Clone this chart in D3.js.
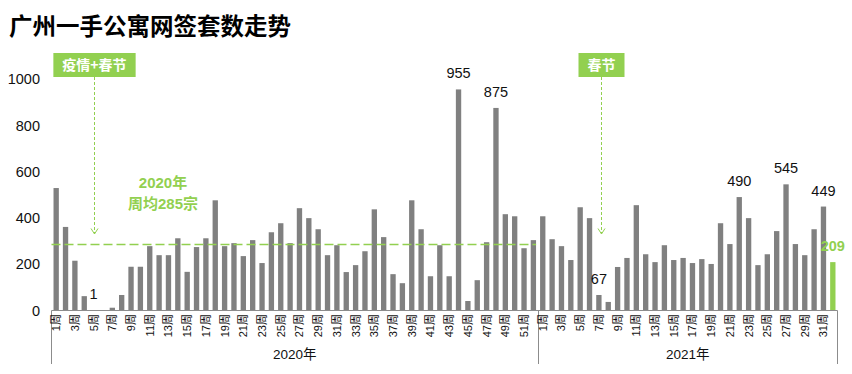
<!DOCTYPE html>
<html>
<head>
<meta charset="utf-8">
<script src="https://cdn.jsdelivr.net/npm/d3@7/dist/d3.min.js"></script>
<style>
  body { margin: 0; background: #fff; }
  text { font-family: "Liberation Sans", Arial, "Noto Sans CJK SC", sans-serif; }
</style>
</head>
<body>
<div id="plot"></div>
<script>
// weekly sales, 2020 (52 weeks) and 2021 (32 weeks)
var sales2020 = [529, 361, 215, 62, 1, 0, 12, 67, 189, 189, 278, 239, 239, 312, 167, 274, 312, 476, 278, 291,
                 235, 304, 205, 338, 377, 291, 442, 399, 351, 239, 282, 166, 196, 256, 437, 317, 157, 118, 476, 351,
                 148, 282, 148, 955, 41, 131, 295, 875, 416, 407, 269, 304];
var sales2021 = [407, 308, 278, 218, 446, 399, 67, 37, 188, 227, 455, 243, 209, 282, 218, 227, 205, 222, 201, 377,
                 287, 490, 399, 196, 243, 343, 545, 287, 239, 351, 449, 209];
var years = ["2020年", "2021年"];
var yTicks = [0, 200, 400, 600, 800, 1000];
// weeks that get a value label
var labelWeeks2020 = [5, 44, 48];
var labelWeeks2021 = [7, 22, 27, 31, 32];
var avg2020 = 285;
var avgText = ["2020年", "周均285宗"];
var notes = [
    {text: "疫情+春节", year: 0, week: 5},
    {text: "春节", year: 1, week: 7.25}
];

var green = "#92D050";
var W = 852, H = 374;
var plotLeft = 51.5, plotRight = 837.5, base = 310.5, plotTop = 79;

var svg = d3.select("#plot")
  .append("svg")
    .attr("width", W)
    .attr("height", H);

// build flat table of bars
var bars = [];
sales2020.forEach(function (v, i) { bars.push({year: 0, week: i + 1, value: v}); });
sales2021.forEach(function (v, i) { bars.push({year: 1, week: i + 1, value: v}); });
bars.forEach(function (d, i) { d.idx = i; });
var last = bars.length - 1;

var x = d3.scaleBand()
    .domain(d3.range(bars.length))
    .range([plotLeft, plotRight])
    .paddingInner(0.43)
    .paddingOuter(0.215);

var y = d3.scaleLinear()
    .domain([0, 1000])
    .range([base, plotTop]);

function cx(i) { return x(i) + x.bandwidth() / 2; }
function idxOf(year, week) { return year === 0 ? week - 1 : sales2020.length + week - 1; }

// Title
svg.append("text")
    .attr("x", 9)
    .attr("y", 35)
    .style("font-family", "'Noto Sans CJK SC', sans-serif")
    .style("font-size", "23.5px")
    .style("font-weight", "bold")
    .attr("fill", "#000")
    .text("广州一手公寓网签套数走势");

// Y axis labels (no line)
svg.append("g")
  .selectAll("text")
  .data(yTicks)
  .enter()
  .append("text")
    .attr("x", 40)
    .attr("y", function (d) { return y(d); })
    .attr("dy", "0.36em")
    .attr("text-anchor", "end")
    .style("font-size", "14.5px")
    .attr("fill", "#111")
    .text(function (d) { return d; });

// Bars
svg.append("g")
  .selectAll("rect")
  .data(bars)
  .enter()
  .append("rect")
    .attr("x", function (d) { return x(d.idx); })
    .attr("y", function (d) { return y(d.value); })
    .attr("width", x.bandwidth())
    .attr("height", function (d) { return base - y(d.value); })
    .attr("fill", function (d) { return d.idx === last ? green : "#808080"; });

// Value labels
var labelled = labelWeeks2020.map(function (w) { return bars[idxOf(0, w)]; })
    .concat(labelWeeks2021.map(function (w) { return bars[idxOf(1, w)]; }));
svg.append("g")
  .selectAll("text")
  .data(labelled)
  .enter()
  .append("text")
    .attr("x", function (d) { return cx(d.idx); })
    .attr("y", function (d) { return y(d.value) - 11; })
    .attr("text-anchor", "middle")
    .style("font-size", "14.5px")
    .attr("fill", function (d) { return d.idx === last ? green : "#111"; })
    .style("font-weight", function (d) { return d.idx === last ? "bold" : "normal"; })
    .text(function (d) { return d.value; });

// X axis line + year dividers
var split = (x(sales2020.length - 1) + x.bandwidth() + x(sales2020.length)) / 2;
var axis = svg.append("g").attr("stroke", "#8c8c8c").attr("stroke-width", 1);
axis.append("line")
    .attr("x1", plotLeft).attr("x2", plotRight)
    .attr("y1", base).attr("y2", base);
[plotLeft, Math.round(split) + 0.5, plotRight].forEach(function (px) {
    axis.append("line")
        .attr("x1", px).attr("x2", px)
        .attr("y1", base).attr("y2", 364);
});

// Week labels, odd weeks only, rotated
svg.append("g")
  .selectAll("text")
  .data(bars.filter(function (d) { return d.week % 2 === 1; }))
  .enter()
  .append("text")
    .attr("transform", function (d) { return "translate(" + cx(d.idx) + "," + (base + 3.5) + ") rotate(-90)"; })
    .attr("dy", "0.36em")
    .attr("text-anchor", "end")
    .style("font-size", "11px")
    .attr("fill", "#111")
    .text(function (d) { return d.week + "周"; });

// Year labels
var yearSpan = [[plotLeft, split], [split, plotRight]];
svg.append("g")
  .selectAll("text")
  .data(years)
  .enter()
  .append("text")
    .attr("x", function (d, i) { return (yearSpan[i][0] + yearSpan[i][1]) / 2; })
    .attr("y", 359)
    .attr("text-anchor", "middle")
    .style("font-size", "13.5px")
    .attr("fill", "#111")
    .text(function (d) { return d; });

// 2020 average dashed line
svg.append("line")
    .attr("x1", plotLeft)
    .attr("x2", split - 2)
    .attr("y1", y(avg2020))
    .attr("y2", y(avg2020))
    .attr("stroke", green)
    .attr("stroke-width", 1.5)
    .attr("stroke-dasharray", "9,4");

svg.append("g")
  .selectAll("text")
  .data(avgText)
  .enter()
  .append("text")
    .attr("x", 163)
    .attr("y", function (d, i) { return 188 + i * 21; })
    .attr("text-anchor", "middle")
    .style("font-size", "15px")
    .style("font-weight", "bold")
    .attr("fill", green)
    .text(function (d) { return d; });

// Note boxes with dashed arrows
notes.forEach(function (n) {
    var w = Math.floor(n.week);
    var px = cx(idxOf(n.year, w)) + (n.week - w) * x.step();
    px = Math.round(px) + 0.5;
    var g = svg.append("g");
    var t = g.append("text")
        .attr("x", px)
        .attr("y", 70)
        .attr("text-anchor", "middle")
        .style("font-family", "'Noto Sans CJK SC', sans-serif")
        .style("font-size", "14px")
        .style("font-weight", "bold")
        .attr("fill", "#fff")
        .text(n.text);
    var bw = t.node().getComputedTextLength() + 18;
    g.insert("rect", "text")
        .attr("x", px - bw / 2)
        .attr("y", 53)
        .attr("width", bw)
        .attr("height", 24)
        .attr("fill", green);
    g.append("line")
        .attr("x1", px).attr("x2", px)
        .attr("y1", 77).attr("y2", 234)
        .attr("stroke", green)
        .attr("stroke-width", 1)
        .attr("stroke-dasharray", "3,2");
    g.append("path")
        .attr("d", "M" + (px - 3.5) + ",228.5L" + px + ",234L" + (px + 3.5) + ",228.5")
        .attr("fill", "none")
        .attr("stroke", green)
        .attr("stroke-width", 1);
});
</script>
</body>
</html>
